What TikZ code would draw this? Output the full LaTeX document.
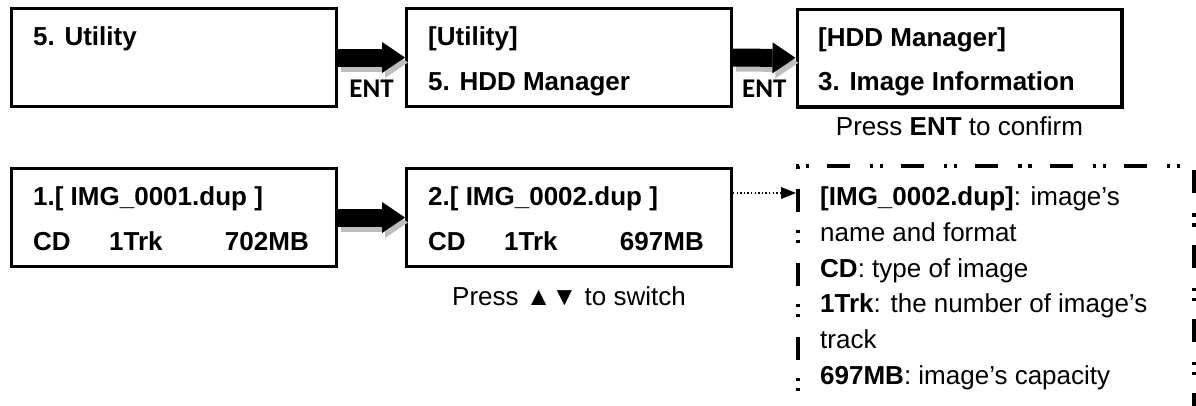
\documentclass[tikz,border=0pt]{standalone}
\usepackage{fontspec}
\setmainfont{Liberation Sans}
\newfontfamily\entfont{Carlito}
\usetikzlibrary{arrows.meta}
\definecolor{shadowgray}{RGB}{190,190,190}

\begin{document}
\begin{tikzpicture}[
        x=1pt, y=-1pt,
        screen/.style={rectangle, draw, line width=3.3pt, minimum width=324.7pt, minimum height=97.7pt, inner sep=0pt},
        lcd/.style={font=\bfseries\fontsize{26}{30}\selectfont, inner sep=0pt, anchor=base west},
        lcd_right/.style={lcd, anchor=base east},
        hint/.style={font=\fontsize{26}{30}\selectfont, inner sep=0pt, anchor=base},
        infotext/.style={font=\fontsize{26}{30}\selectfont, inner sep=0pt, anchor=base west},
        entkey/.style={font=\entfont\bfseries\fontsize{27}{30}\selectfont, inner sep=0pt},
        bigarrow/.style={line width=18pt, -{Triangle[length=23pt 0 0, width=31pt 0 0, line width=0pt 0 0]}},
        arrowshade/.style={bigarrow, draw=shadowgray, transform canvas={shift={(3pt,-5pt)}}},
        peek/.style={line width=1.3pt, dash pattern=on 1.3pt off 2.3pt, -{Triangle[length=15pt 0 0, width=12pt 0 0, line width=0pt 0 0]}},
        infobox/.style={rectangle, draw, line width=4pt, dash pattern=on 23pt off 18pt on 3.3pt off 6.7pt on 3.3pt off 20pt, minimum width=396pt, minimum height=300pt, inner sep=0pt, anchor=north west}
    ]
    \useasboundingbox (0,0) rectangle (1196,405);

    % --- Define Screens ---
    \node[screen] (u1) at (174,57.5) {};
    \node[screen] (u2) at (569,57.5) {};
    \node[screen] (u3) at (959.5,58) {};
    \node[screen] (i1) at (174,217.5) {};
    \node[screen] (i2) at (569,217.5) {};

    % --- Screen Texts ---
    \node[lcd] (u1a) at (33,45) {5. Utility};
    \node[lcd] (u2a) at (428,45) {[Utility]};
    \node[lcd] (u2b) at (428,90) {5. HDD Manager};
    \node[lcd] (u3a) at (818,46) {[HDD Manager]};
    \node[lcd] (u3b) at (818,90) {3. Image Information};

    \node[lcd] (i1a) at (33,205) {1.[ IMG\_0001.dup ]};
    \node[lcd] (i1b) at (33,250) {CD};
    \node[lcd] (i1c) at (109,250) {1Trk};
    \node[lcd_right] (i1d) at (309,250) {702MB};
    \node[lcd] (i2a) at (428,205) {2.[ IMG\_0002.dup ]};
    \node[lcd] (i2b) at (428,250) {CD};
    \node[lcd] (i2c) at (504,250) {1Trk};
    \node[lcd_right] (i2d) at (704,250) {697MB};

    % --- Arrows Between Screens ---
    \draw[arrowshade] (u1) -- (u2);
    \draw[bigarrow] (u1) -- node[entkey, yshift=-31pt] (ent1) {ENT} (u2);
    \draw[arrowshade] (u2) -- (u3);
    \draw[bigarrow] (u2) -- node[entkey, yshift=-31pt] (ent2) {ENT} (u3);
    \draw[arrowshade] (i1) -- (i2);
    \draw[bigarrow] (i1) -- (i2);

    % --- Hints ---
    \node[hint] (confirm) at (959.5,135) {Press \textbf{ENT} to confirm};
    \node[hint] (switch) at (569,305) {Press ▲▼ to switch};

    % --- Image Details ---
    \node[infobox] (info) at (796,164) {};
    \coordinate (peekstart) at ([yshift=24.5pt]i2.east);
    \draw[peek] (peekstart) -- (peekstart -| info.west);

    \node[infotext] (d1) at (820,205) {\textbf{[IMG\_0002.dup]}: image’s};
    \node[infotext] (d2) at (820,241) {name and format};
    \node[infotext] (d3) at (820,277) {\textbf{CD}: type of image};
    \node[infotext] (d4) at (820,312) {\textbf{1Trk}: the number of image’s};
    \node[infotext] (d5) at (820,348) {track};
    \node[infotext] (d6) at (820,384) {\textbf{697MB}: image’s capacity};

\end{tikzpicture}
\end{document}
